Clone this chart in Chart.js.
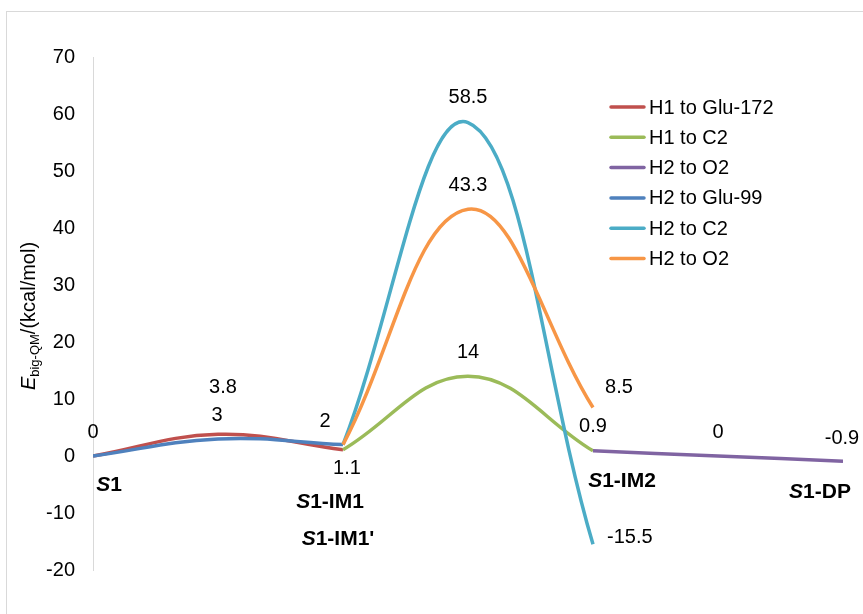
<!DOCTYPE html>
<html>
<head>
<meta charset="utf-8">
<script src="https://cdn.jsdelivr.net/npm/chart.js@4"></script>
<style>
  html, body { margin: 0; padding: 0; background: #fff; }
  #wrap { width: 863px; height: 614px; }
</style>
</head>
<body>
<div id="wrap"><canvas id="energyChart" width="863" height="614"></canvas></div>
<script>
// Stage names along the reaction path and where they sit on the x scale
const stageNames = ['S1', 'S1-IM1', "S1-IM1'", 'S1-IM2', 'S1-DP'];
const stageX = [0, 1, 1, 2, 3];

// Series (x positions and energies in kcal/mol)
const seriesNames = ['H1 to Glu-172', 'H1 to C2', 'H2 to O2', 'H2 to Glu-99', 'H2 to C2', 'H2 to O2'];
const h1Glu172X = [0, 0.5, 1];
const h1Glu172Y = [0, 3.8, 1.1];
const h1C2X = [1, 1.5, 2];
const h1C2Y = [1.1, 14, 0.9];
const h2O2aX = [2, 2.5, 3];
const h2O2aY = [0.9, 0, -0.9];
const h2Glu99X = [0, 0.5, 1];
const h2Glu99Y = [0, 3, 2];
const h2C2X = [1, 1.5, 2];
const h2C2Y = [2, 58.5, -15.5];
const h2O2bX = [1, 1.5, 2];
const h2O2bY = [2, 43.3, 8.5];

// Y axis ticks
const yMin = -20, yMax = 70, yStep = 10;

const colors = ['#C0504D', '#9BBB59', '#8064A2', '#4F81BD', '#4BACC6', '#F79646'];
const FONT = '"Liberation Sans", Arial, sans-serif';

// where each value label sits relative to its point (style only)
const labelSpots = [
    [{ i: 0, dx: 0, dy: -24 }, { i: 1, dx: 5, dy: -47 }, { i: 2, dx: 4, dy: 19 }],
    [{ i: 1, dx: 0, dy: -24 }, { i: 2, dx: 0, dy: -24 }],
    [{ i: 1, dx: 0, dy: -24 }, { i: 2, dx: -1, dy: -23 }],
    [{ i: 1, dx: -1, dy: -23 }, { i: 2, dx: -18, dy: -23 }],
    [{ i: 1, dx: 0, dy: -25 }, { i: 2, dx: 14, dy: -7, align: 'left' }],
    [{ i: 1, dx: 0, dy: -24 }, { i: 2, dx: 26, dy: -20 }]
];
const stageSpots = [
    { dx: 16, dy: 29 }, { dx: -13, dy: 46 }, { dx: -5, dy: 83 }, { dx: 29, dy: 25 }, { dx: -23, dy: 36 }
];

function toPoints(xs, ys) {
    return xs.map((x, k) => ({ x: x, y: ys[k] }));
}

const allX = [h1Glu172X, h1C2X, h2O2aX, h2Glu99X, h2C2X, h2O2bX];
const allY = [h1Glu172Y, h1C2Y, h2O2aY, h2Glu99Y, h2C2Y, h2O2bY];

const datasets = seriesNames.map((name, i) => ({
    label: name,
    data: toPoints(allX[i], allY[i]),
    borderColor: colors[i],
    backgroundColor: colors[i],
    borderWidth: 3.5,
    pointRadius: 0,
    fill: false,
    tension: 0.4,
    order: seriesNames.length - i   // later series on top, like the original
}));

const decorPlugin = {
    id: 'decor',
    beforeDraw(chart) {
        const ctx = chart.ctx;
        ctx.save();
        ctx.fillStyle = '#fff';
        ctx.fillRect(0, 0, chart.width, chart.height);
        ctx.strokeStyle = '#d9d9d9';
        ctx.lineWidth = 1;
        ctx.strokeRect(6.5, 11.5, chart.width + 20, chart.height + 20);
        ctx.restore();
    },
    afterDraw(chart) {
        const ctx = chart.ctx;
        const xs = chart.scales.x, ys = chart.scales.y;
        ctx.save();
        ctx.fillStyle = '#000';
        ctx.textBaseline = 'middle';

        // value labels
        ctx.font = '20px ' + FONT;
        labelSpots.forEach((spots, s) => {
            spots.forEach(sp => {
                const v = allY[s][sp.i];
                const px = xs.getPixelForValue(allX[s][sp.i]);
                const py = ys.getPixelForValue(v);
                ctx.textAlign = sp.align || 'center';
                ctx.fillText(String(v), px + sp.dx, py + sp.dy);
            });
        });

        // stage labels (italic S, bold)
        const y0 = ys.getPixelForValue(0);
        stageNames.forEach((name, k) => {
            const cx = xs.getPixelForValue(stageX[k]) + stageSpots[k].dx;
            const cy = y0 + stageSpots[k].dy;
            const first = name.charAt(0), rest = name.slice(1);
            ctx.font = 'italic bold 21px ' + FONT;
            const w1 = ctx.measureText(first).width;
            ctx.font = 'bold 21px ' + FONT;
            const w2 = ctx.measureText(rest).width;
            let x = cx - (w1 + w2) / 2;
            ctx.textAlign = 'left';
            ctx.font = 'italic bold 21px ' + FONT;
            ctx.fillText(first, x, cy);
            ctx.font = 'bold 21px ' + FONT;
            ctx.fillText(rest, x + w1, cy);
        });

        // legend
        ctx.font = '20px ' + FONT;
        ctx.textAlign = 'left';
        seriesNames.forEach((name, i) => {
            const ly = 107 + i * 30.3;
            ctx.strokeStyle = colors[i];
            ctx.lineWidth = 3.5;
            ctx.lineCap = 'round';
            ctx.beginPath();
            ctx.moveTo(611, ly);
            ctx.lineTo(644, ly);
            ctx.stroke();
            ctx.fillText(name, 649, ly + 1);
        });

        // y axis title: E_big-QM/(kcal/mol)
        ctx.translate(29, 316);
        ctx.rotate(-Math.PI / 2);
        ctx.font = 'italic 20px ' + FONT;
        const wE = ctx.measureText('E').width;
        ctx.font = '13px ' + FONT;
        const wSub = ctx.measureText('big-QM').width;
        ctx.font = '20px ' + FONT;
        const wRest = ctx.measureText('/(kcal/mol)').width;
        let tx = -(wE + wSub + wRest) / 2;
        ctx.font = 'italic 20px ' + FONT;
        ctx.fillText('E', tx, 0);
        ctx.font = '13px ' + FONT;
        ctx.fillText('big-QM', tx + wE, 6);
        ctx.font = '20px ' + FONT;
        ctx.fillText('/(kcal/mol)', tx + wE + wSub, 0);
        ctx.restore();
    }
};

new Chart(document.getElementById('energyChart'), {
    type: 'line',
    data: { datasets: datasets },
    options: {
        responsive: false,
        animation: false,
        layout: { padding: { top: 57, bottom: 44, right: 20, left: 0 } },
        plugins: {
            legend: { display: false },
            tooltip: { enabled: false }
        },
        scales: {
            x: {
                type: 'linear',
                min: 0,
                max: 3,
                display: false
            },
            y: {
                min: yMin,
                max: yMax,
                grid: { display: false, drawTicks: false },
                border: { display: true, color: '#d9d9d9', width: 1 },
                ticks: {
                    stepSize: yStep,
                    padding: 18,
                    color: '#000',
                    font: { family: FONT, size: 20 }
                },
                afterFit: function(scale) { scale.width = 93; }
            }
        }
    },
    plugins: [decorPlugin]
});
</script>
</body>
</html>
